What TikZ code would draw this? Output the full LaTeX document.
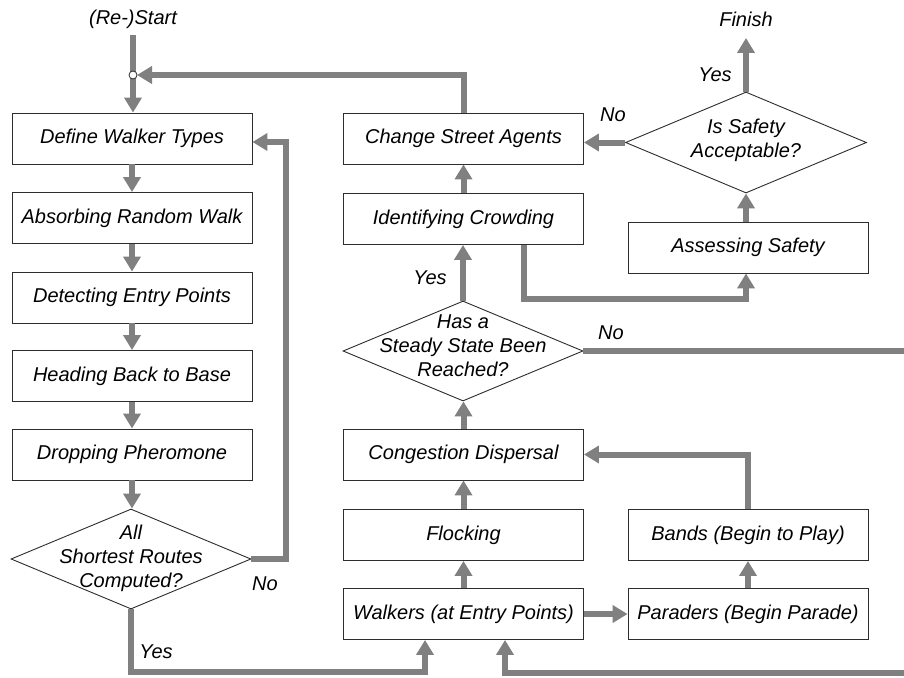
\documentclass[tikz,border=0pt]{standalone}
\usepackage{fontspec}
\setmainfont{Liberation Sans}
\usetikzlibrary{arrows.meta,shapes.geometric,calc}
\definecolor{flowgray}{RGB}{128,128,128}
\definecolor{boxline}{RGB}{45,45,45}
\begin{document}
\begin{tikzpicture}[x=1pt,y=-1pt,
  font=\fontsize{20}{24}\selectfont\itshape,
  stepbox/.style={draw=boxline,line width=0.9pt,fill=white,minimum width=240pt,minimum height=51pt,inner sep=0pt},
  decide/.style={diamond,draw=boxline,line width=0.9pt,fill=white,minimum width=240pt,minimum height=100pt,inner sep=0pt},
  flow/.style={draw=flowgray,line width=6pt,line join=miter},
  arr/.style={flow,-{Triangle[width=17pt,length=15pt]}},
  lbl/.style={inner sep=0pt,align=center}
]
\useasboundingbox (0,0) rectangle (904,677);
\fill[white] (0,0) rectangle (904,677);

% left column
\node[stepbox] (dwt) at (132,138.5) {Define Walker Types};
\node[stepbox] (arw) at (132,218) {Absorbing Random Walk};
\node[stepbox] (dep) at (132,297.5) {Detecting Entry Points};
\node[stepbox] (hbb) at (132,376) {Heading Back to Base};
\node[stepbox] (dph) at (132,454.5) {Dropping Pheromone};
\node[decide] (asr) at (131,559) {};
\node[lbl] (asrtext) at (131,558) {All\\Shortest Routes\\Computed?};

% middle column
\node[stepbox] (csa) at (463.5,138.5) {Change Street Agents};
\node[stepbox] (icr) at (463.5,219) {Identifying Crowding};
\node[decide] (sss) at (463,351) {};
\node[lbl] (ssstext) at (463,346) {Has a\\Steady State Been\\Reached?};
\node[stepbox] (cgd) at (463.5,454.5) {Congestion Dispersal};
\node[stepbox] (flk) at (463.5,535) {Flocking};
\node[stepbox] (wlk) at (463.5,614) {Walkers (at Entry Points)};

% right column
\node[stepbox] (ass) at (748,247.5) {Assessing Safety};
\node[decide,minimum width=241pt,minimum height=101pt] (isa) at (746,142.5) {};
\node[lbl] (isatext) at (746,140) {Is Safety\\Acceptable?};
\node[stepbox] (bnd) at (748,535) {Bands (Begin to Play)};
\node[stepbox] (prd) at (748,614) {Paraders (Begin Parade)};

% terminals and labels
\node[lbl] (start) at (133,19) {(Re-)Start};
\node[lbl] (finish) at (746,19) {Finish};
\node[lbl] (no1) at (265,584) {No};
\node[lbl] (yes1) at (156,652) {Yes};
\node[lbl] (yes2) at (430,278) {Yes};
\node[lbl] (no2) at (611,333) {No};
\node[lbl] (no3) at (613,115) {No};
\node[lbl] (yes3) at (715,75) {Yes};

\coordinate (jn) at (133,75);
\coordinate (fin) at (746,38);
\coordinate (rtop) at (904,351);
\coordinate (rbot) at (904,673);
\coordinate (ybot) at (131,672);

% connectors
\draw[flow] (133,35) -- (jn);
\draw[arr] (jn) -- (jn |- dwt.north);
\draw[arr,shorten >=4pt] (csa.north) -- (csa.north |- jn) -- (jn);
\draw[arr] (dwt) -- (arw);
\draw[arr] (arw) -- (dep);
\draw[arr] (dep) -- (hbb);
\draw[arr] (hbb) -- (dph);
\draw[arr] (dph.south) -- (dph.south |- asr.north);
\draw[arr] (asr.east) -- ++(35,0) |- ([yshift=-3.5pt]dwt.east);
\draw[arr] (asr.south) -- (ybot) -| ([xshift=-38.5pt]wlk.south);

\draw[arr] (wlk) -- (flk);
\draw[arr] (flk) -- (cgd);
\draw[arr] (cgd.north) -- (cgd.north |- sss.south);
\draw[arr] (sss.north) -- (sss.north |- icr.south);
\draw[arr] (icr) -- (csa);
\draw[arr] ([xshift=60.5pt]icr.south) -- ++(0,54) -| (isa.south |- ass.south);
\draw[arr] (isa.south |- ass.north) -- (isa.south);
\draw[arr] (isa.north) -- (fin);
\draw[arr] (isa.west) -- (isa.west -| csa.east);

\draw[arr] (wlk) -- (prd);
\draw[arr] (prd) -- (bnd);
\draw[arr] (bnd.north) |- (cgd.east);

\draw[flow] (sss.east) -- (rtop);
\draw[arr] (rbot) -| ([xshift=41.5pt]wlk.south);

\node[circle,draw=boxline,fill=white,inner sep=0pt,minimum size=8pt,line width=0.8pt] (jc) at (jn) {};
\end{tikzpicture}
\end{document}
